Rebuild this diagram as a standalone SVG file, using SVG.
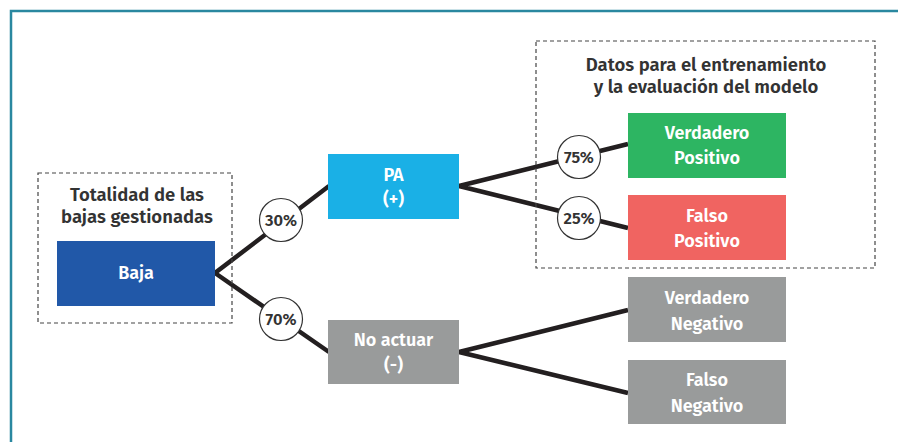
<svg xmlns="http://www.w3.org/2000/svg" width="898" height="442" viewBox="0 0 898 442">
<style>
.t{font-family:"Fira Sans","Noto Sans","Open Sans",sans-serif;font-weight:600;text-anchor:middle}
.h{font-size:18.5px;fill:#333}
.w{font-size:18px;fill:#fff}
.p{font-size:16.5px;fill:#333}
.dash{fill:none;stroke:#444;stroke-width:1.2;stroke-dasharray:4 3}
.ln{stroke:#231f20;stroke-width:4.5;fill:none;stroke-linecap:butt}
.c{fill:#fff;stroke:#333;stroke-width:1.2}
</style>
<rect width="898" height="442" fill="#fff"/>
<path d="M11 442 V11 H898" fill="none" stroke="#2a88a0" stroke-width="2.5"/>
<g id="connectors">
<path class="ln" d="M329 186 L215 273 L329 352"/>
<path class="ln" d="M628 144 L459 186 L628 228"/>
<path class="ln" d="M628 310 L459 352 L628 393"/>
</g>
<g id="grupo-total">
<rect class="dash" x="38" y="173" width="194" height="150"/>
<text class="t h" x="137" y="201">Totalidad de las</text>
<text class="t h" x="137" y="223">bajas gestionadas</text>
</g>
<g id="grupo-datos">
<rect class="dash" x="536" y="41" width="339" height="227"/>
<text class="t h" x="706" y="71">Datos para el entrenamiento</text>
<text class="t h" x="706" y="93">y la evaluación del modelo</text>
</g>
<g id="baja">
<rect x="57" y="241" width="158" height="65" fill="#2158a8"/>
<text class="t w" x="136" y="279">Baja</text>
</g>
<g id="pa">
<rect x="328" y="154" width="131" height="65" fill="#1ab0e6"/>
<text class="t w" x="393.5" y="181">PA</text>
<text class="t w" x="393.5" y="205">(+)</text>
</g>
<g id="no-actuar">
<rect x="328" y="320" width="131" height="64" fill="#999b9b"/>
<text class="t w" x="393.5" y="346">No actuar</text>
<text class="t w" x="393.5" y="371">(-)</text>
</g>
<g id="verdadero-positivo">
<rect x="628" y="113" width="158" height="65" fill="#2db562"/>
<text class="t w" x="707" y="139">Verdadero</text>
<text class="t w" x="707" y="164">Positivo</text>
</g>
<g id="falso-positivo">
<rect x="628" y="195" width="158" height="65" fill="#f06461"/>
<text class="t w" x="707" y="222">Falso</text>
<text class="t w" x="707" y="247">Positivo</text>
</g>
<g id="verdadero-negativo">
<rect x="628" y="277" width="158" height="65" fill="#999b9b"/>
<text class="t w" x="707" y="304">Verdadero</text>
<text class="t w" x="707" y="330">Negativo</text>
</g>
<g id="falso-negativo">
<rect x="628" y="360" width="158" height="64" fill="#999b9b"/>
<text class="t w" x="707" y="386">Falso</text>
<text class="t w" x="707" y="412">Negativo</text>
</g>
<g id="p30"><circle class="c" cx="281" cy="220" r="21.5"/><text class="t p" x="281" y="226">30%</text></g>
<g id="p70"><circle class="c" cx="281" cy="319" r="21.5"/><text class="t p" x="281" y="325">70%</text></g>
<g id="p75"><circle class="c" cx="579" cy="157" r="21.5"/><text class="t p" x="579" y="163">75%</text></g>
<g id="p25"><circle class="c" cx="579" cy="218" r="21.5"/><text class="t p" x="579" y="224">25%</text></g>
</svg>
